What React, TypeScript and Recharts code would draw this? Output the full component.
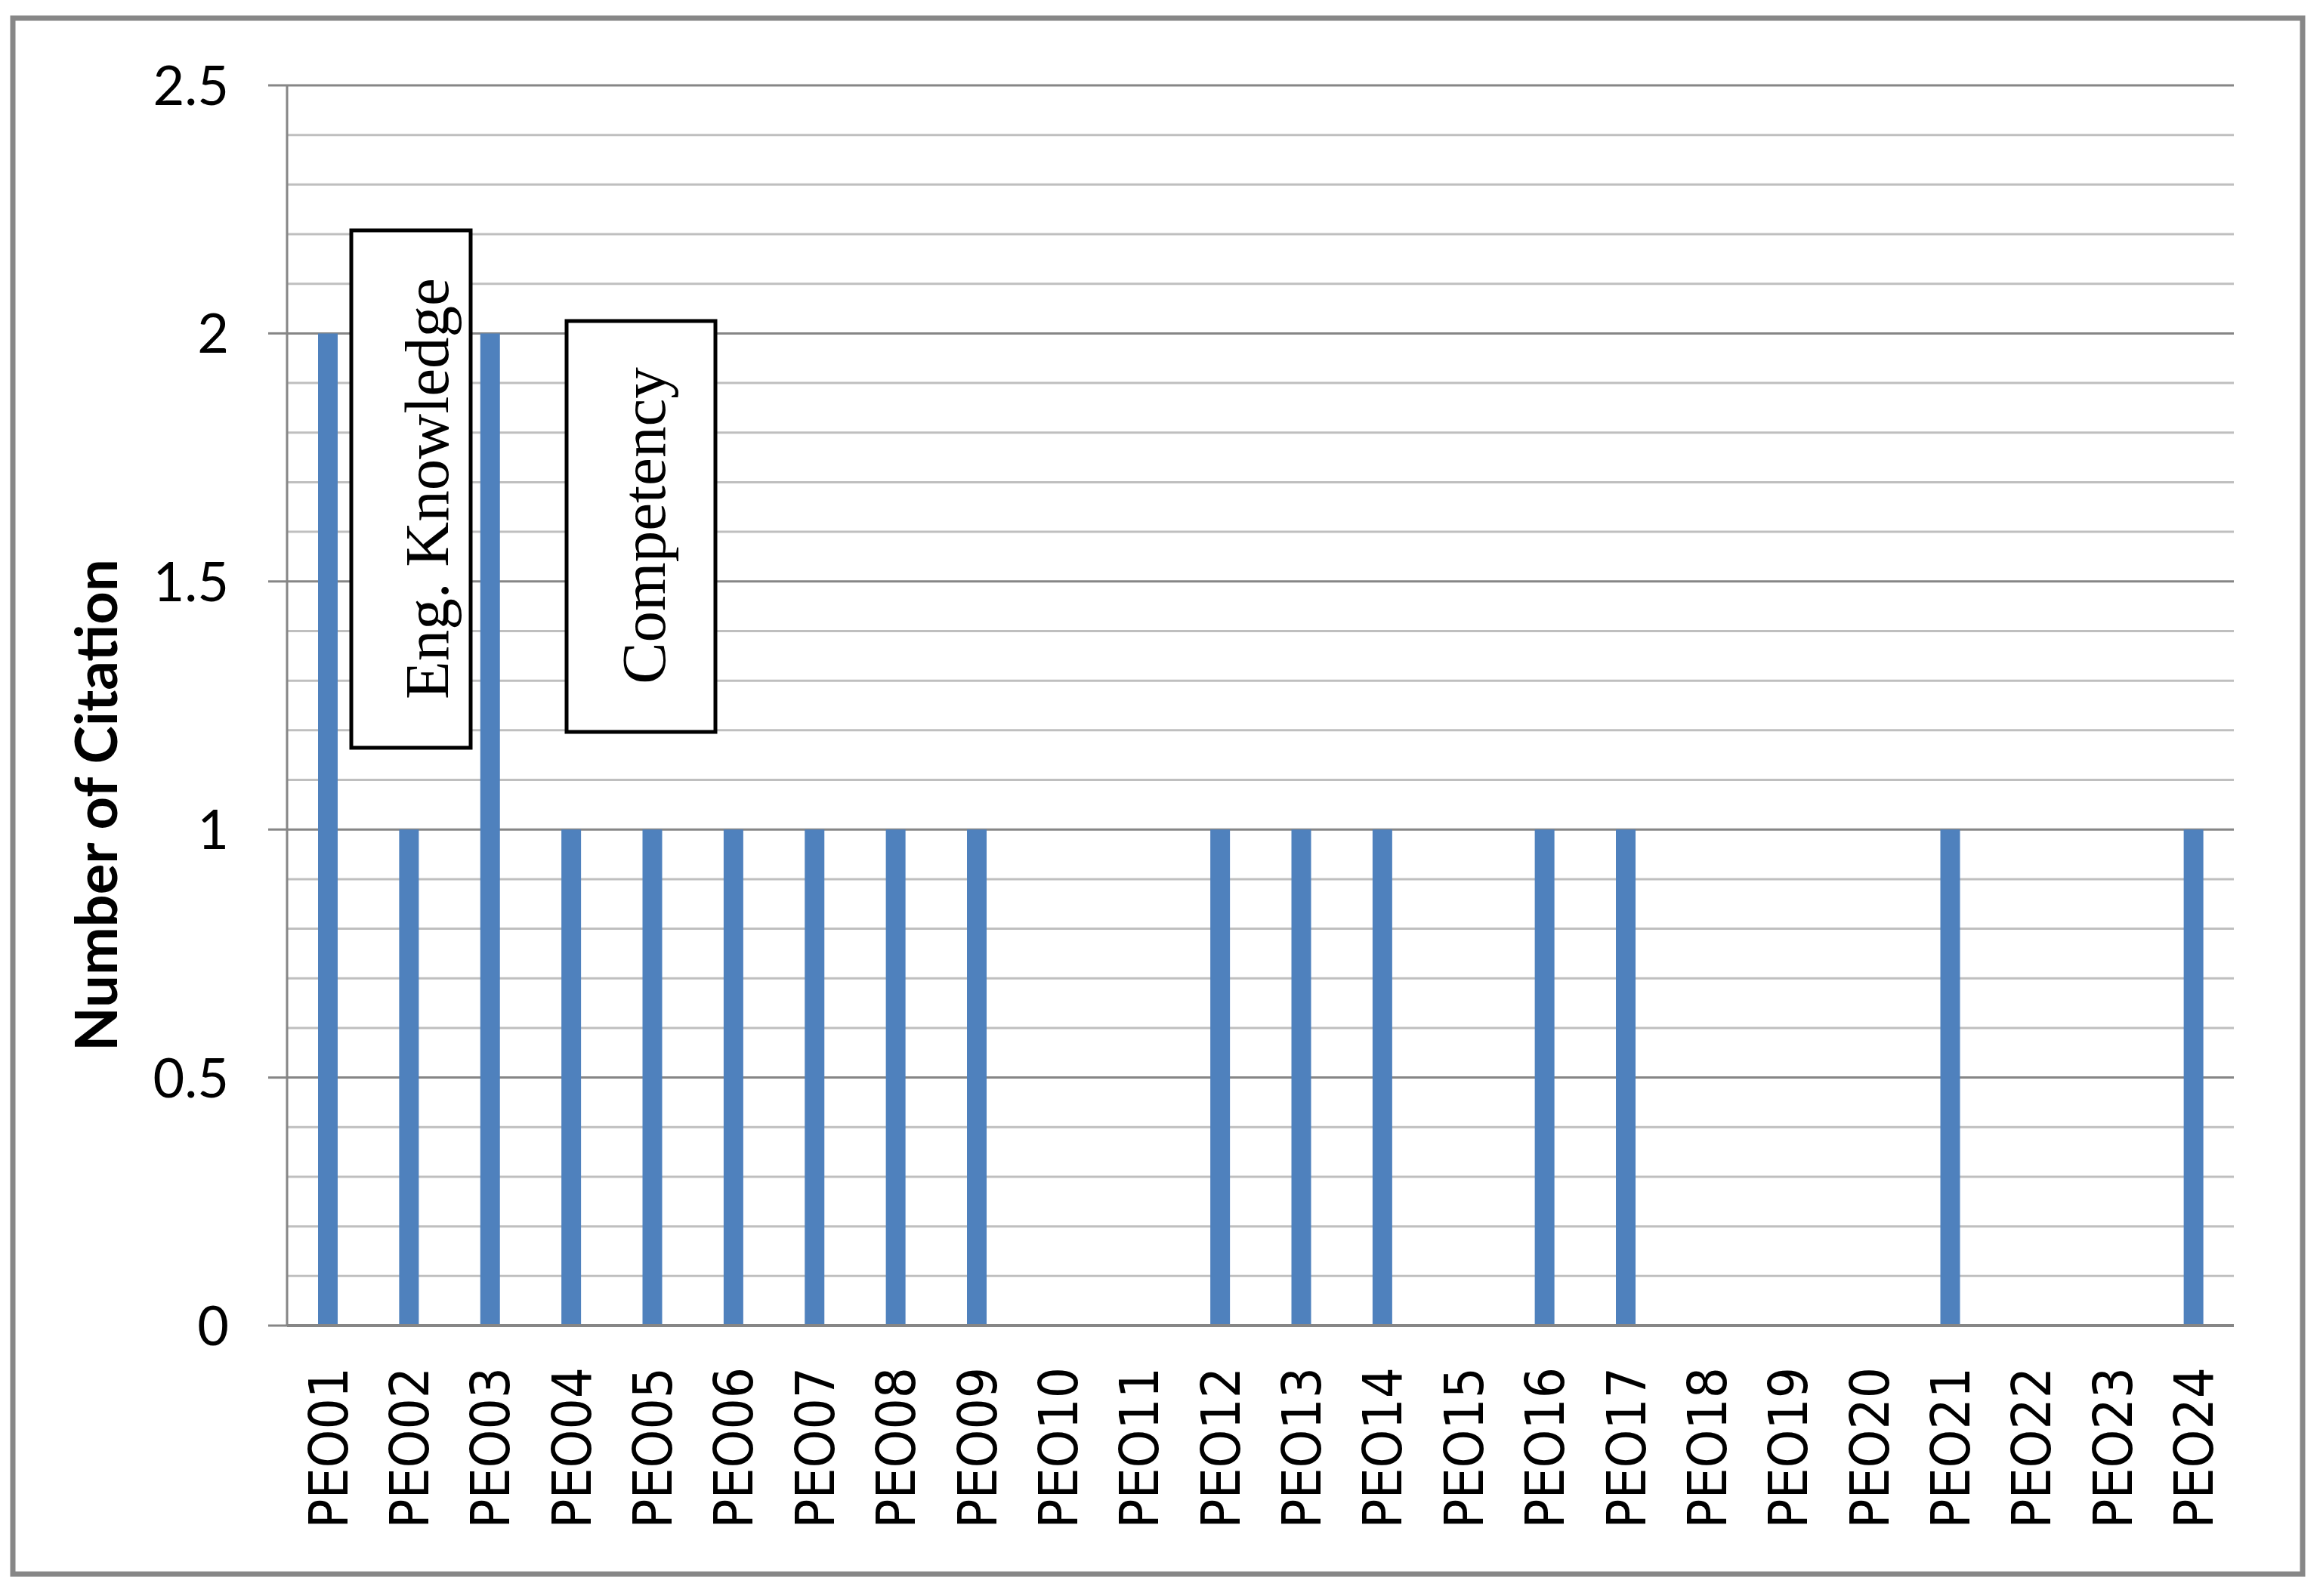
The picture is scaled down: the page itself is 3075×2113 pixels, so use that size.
import { Bar, BarChart, CartesianGrid, Customized, XAxis, YAxis } from 'recharts';

const categories = [
    'PEO01', 'PEO02', 'PEO03', 'PEO04', 'PEO05', 'PEO06', 'PEO07', 'PEO08',
    'PEO09', 'PEO10', 'PEO11', 'PEO12', 'PEO13', 'PEO14', 'PEO15', 'PEO16',
    'PEO17', 'PEO18', 'PEO19', 'PEO20', 'PEO21', 'PEO22', 'PEO23', 'PEO24',
];
const citations = [2, 1, 2, 1, 1, 1, 1, 1, 1, 0, 0, 1, 1, 1, 0, 1, 1, 0, 0, 0, 1, 0, 0, 1];
const yTicks = [0, 0.5, 1, 1.5, 2, 2.5];
const minorGrid = [
    0.1, 0.2, 0.3, 0.4, 0.6, 0.7, 0.8, 0.9, 1.1, 1.2, 1.3, 1.4,
    1.6, 1.7, 1.8, 1.9, 2.1, 2.2, 2.3, 2.4,
];
const yTitle = 'Number of Citation';
const notes = ['Eng. Knowledge', 'Competency'];

const data = categories.map((name, i) => ({ name, value: citations[i] }));

const AXIS = '#868686';

function YTick({ x, y, payload }: any) {
    return (
        <text x={x} y={y} dy="0.36em" textAnchor="end" fontFamily="Lato" fontSize={72} fill="#000">
            {payload.value}
        </text>
    );
}

function XTick({ x, y, payload }: any) {
    return (
        <text
            x={x}
            y={y}
            dy="0.36em"
            textAnchor="end"
            transform={`rotate(-90, ${x}, ${y})`}
            fontFamily="'DejaVu Sans Condensed', 'Liberation Sans'"
            fontStretch="condensed"
            fontSize={72}
            fill="#000"
        >
            {payload.value}
        </text>
    );
}

// frame, axis title and the two text boxes
function Extras() {
    return (
        <g>
            <rect x={17} y={24} width={3031} height={2060} fill="none" stroke="#878787" strokeWidth={7} />
            <text
                x={155}
                y={1066}
                transform="rotate(-90, 155, 1066)"
                textAnchor="middle"
                fontFamily="Lato"
                fontWeight="bold"
                fontSize={76}
                fill="#000"
            >
                {yTitle}
            </text>
            <rect x={465} y={305} width={158} height={685} fill="#fff" stroke="#000" strokeWidth={5} />
            <text
                x={593}
                y={647}
                transform="rotate(-90, 593, 647)"
                textAnchor="middle"
                fontFamily="'Liberation Serif'"
                fontSize={83}
                fill="#000"
            >
                {notes[0]}
            </text>
            <rect x={750} y={425} width={197} height={544} fill="#fff" stroke="#000" strokeWidth={5} />
            <text
                x={880}
                y={696}
                transform="rotate(-90, 880, 696)"
                textAnchor="middle"
                fontFamily="'Liberation Serif'"
                fontSize={83}
                fill="#000"
            >
                {notes[1]}
            </text>
        </g>
    );
}

export default function App() {
    return (
        <div style={{ position: 'absolute', left: 0, top: 0, width: 3075, height: 2113, background: '#fff' }}>
            <BarChart width={3075} height={2113} data={data} margin={{ top: 113, right: 118, bottom: 0, left: 0 }}>
                <CartesianGrid vertical={false} horizontalValues={minorGrid} stroke="#bfbfbf" strokeWidth={3} />
                <CartesianGrid vertical={false} horizontalValues={yTicks} stroke={AXIS} strokeWidth={3} />
                <XAxis
                    dataKey="name"
                    interval={0}
                    height={358}
                    tickLine={false}
                    tickSize={0}
                    tickMargin={55}
                    axisLine={{ stroke: AXIS, strokeWidth: 4 }}
                    tick={<XTick />}
                />
                <YAxis
                    width={380}
                    domain={[0, 2.5]}
                    ticks={yTicks}
                    tickSize={25}
                    tickMargin={52}
                    tickLine={{ stroke: AXIS, strokeWidth: 3 }}
                    axisLine={{ stroke: AXIS, strokeWidth: 3 }}
                    tick={<YTick />}
                />
                <Bar dataKey="value" fill="#4f81bd" barSize={26} isAnimationActive={false} />
                <Customized component={<Extras />} />
            </BarChart>
        </div>
    );
}
